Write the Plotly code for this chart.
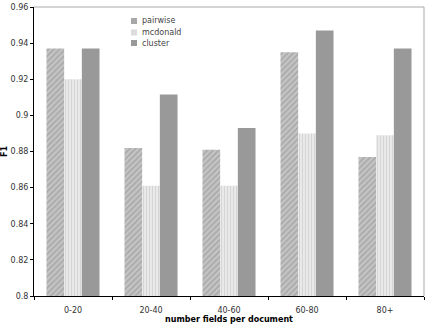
import plotly.graph_objects as go

categories = ["0-20", "20-40", "40-60", "60-80", "80+"]
pairwise = [0.937, 0.882, 0.881, 0.935, 0.877]
mcdonald = [0.920, 0.861, 0.861, 0.890, 0.889]
cluster = [0.937, 0.9115, 0.893, 0.947, 0.937]
series_names = ["pairwise", "mcdonald", "cluster"]
y_ticks = [0.8, 0.82, 0.84, 0.86, 0.88, 0.9, 0.92, 0.94, 0.96]
y_ticklabels = ["0.8", "0.82", "0.84", "0.86", "0.88", "0.9", "0.92", "0.94", "0.96"]

font_family = "DejaVu Sans"
swatch_colors = ["#a8a8a8", "#dcdcdc", "#999999"]

fig = go.Figure()
fig.add_trace(go.Bar(
    name=series_names[0], x=categories, y=pairwise,
    marker=dict(color="#b4b4b4", line=dict(width=0),
                pattern=dict(shape="/", fgcolor="#8c8c8c", bgcolor="#c4c4c4", size=4, solidity=0.4)),
))
fig.add_trace(go.Bar(
    name=series_names[1], x=categories, y=mcdonald,
    marker=dict(color="#d8d8d8", line=dict(width=0),
                pattern=dict(shape="|", fgcolor="#bdbdbd", bgcolor="#ececec", size=3, solidity=0.45)),
))
fig.add_trace(go.Bar(
    name=series_names[2], x=categories, y=cluster,
    marker=dict(color="#999999", line=dict(width=0)),
))

# manual compact legend (small swatches, tight spacing)
leg_x_text = 0.272
leg_x0, leg_x1 = 0.2487, 0.2641
leg_ys = [0.9516, 0.9118, 0.8754]
half_h = 3 / 289
shapes = [
    dict(type="line", xref="paper", yref="paper", x0=0, x1=1, y0=1, y1=1,
         line=dict(color="#aaaaaa", width=1)),
    dict(type="line", xref="paper", yref="paper", x0=1, x1=1, y0=0, y1=1,
         line=dict(color="#aaaaaa", width=1)),
]
annotations = []
for name, col, yy in zip(series_names, swatch_colors, leg_ys):
    shapes.append(dict(type="rect", xref="paper", yref="paper",
                       x0=leg_x0, x1=leg_x1, y0=yy - half_h, y1=yy + half_h,
                       fillcolor=col, line=dict(width=0)))
    annotations.append(dict(text=name, xref="paper", yref="paper", x=leg_x_text, y=yy,
                            xanchor="left", yanchor="middle", showarrow=False,
                            font=dict(size=8, color="#444", family=font_family)))

fig.update_layout(
    width=427, height=324,
    margin=dict(l=34, r=3, t=7, b=28),
    paper_bgcolor="white", plot_bgcolor="white",
    barmode="group", bargap=0.32, bargroupgap=0,
    font=dict(family=font_family, size=8, color="#222"),
    showlegend=False,
    xaxis=dict(
        automargin=False,
        showline=True, linecolor="black", linewidth=1,
        ticks="outside", ticklen=3, tickcolor="black", tickson="boundaries",
        ticklabelstandoff=6,
        tickfont=dict(size=8, color="#333"),
        title=dict(text="<b>number fields per document</b>", font=dict(size=8, color="black"), standoff=3),
    ),
    yaxis=dict(
        automargin=False,
        range=[0.8, 0.96], tickvals=y_ticks, ticktext=y_ticklabels,
        showline=True, linecolor="black", linewidth=1,
        ticks="outside", ticklen=3, tickcolor="black",
        showgrid=False, zeroline=False,
        tickfont=dict(size=8, color="#333"),
        title=dict(text="<b>F1</b>", font=dict(size=8, color="black"), standoff=4),
    ),
    shapes=shapes,
    annotations=annotations,
)

fig.write_html("out.html")
